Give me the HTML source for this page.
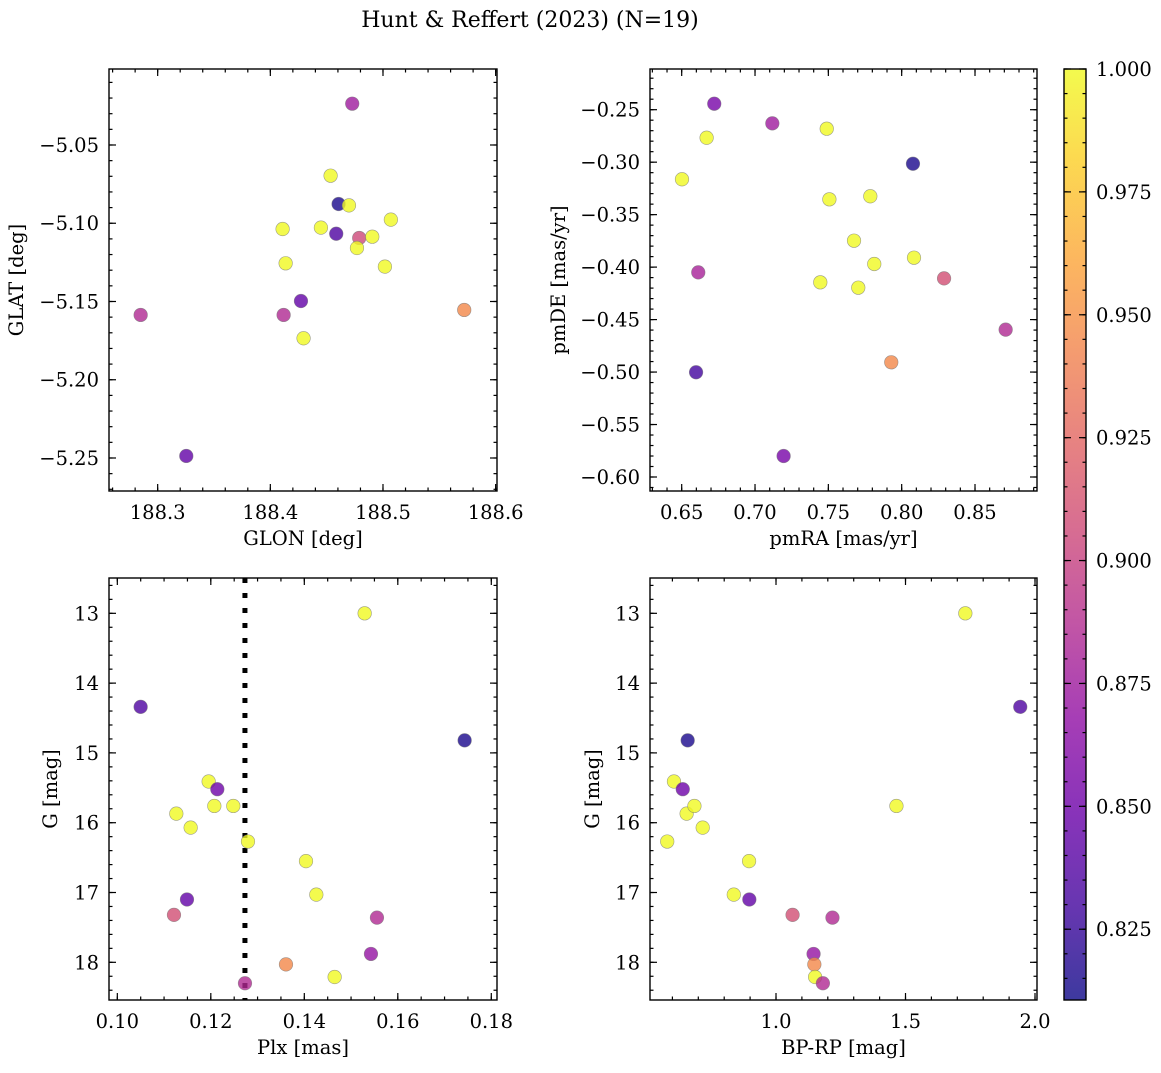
<!DOCTYPE html>
<html><head><meta charset="utf-8">
<style>
html,body{margin:0;padding:0;background:#fff;}
svg text{font-family:"DejaVu Serif","Liberation Serif",serif;fill:#000;}
</style></head>
<body>
<svg id="fig" width="1161" height="1068" viewBox="0 0 1161 1068" xmlns="http://www.w3.org/2000/svg">
<text x="530" y="27" font-size="22" text-anchor="middle">Hunt &amp; Reffert (2023) (N=19)</text>
</svg>
<script>
// Panel 1: GLON vs GLAT
const glon1 = [188.4727,188.4535,188.4606,188.4698,188.5070,188.4109,188.4449,188.4585,188.4789,188.4905,188.4769,188.4136,188.5017,188.4272,188.2849,188.4118,188.5721,188.4295,188.3254];
const glat1 = [-5.0236,-5.0696,-5.0877,-5.0886,-5.0977,-5.1037,-5.1028,-5.1067,-5.1094,-5.1086,-5.1158,-5.1256,-5.1277,-5.1497,-5.1586,-5.1586,-5.1554,-5.1735,-5.2487];
const prob1 = [0.875,1.0,0.815,1.0,1.0,1.0,1.0,0.835,0.905,1.0,1.0,1.0,1.0,0.845,0.885,0.885,0.945,1.0,0.845];
// Panel 2: pmRA vs pmDE
const pmra2 = [0.6722,0.7118,0.7489,0.6670,0.6502,0.8077,0.7507,0.7786,0.7675,0.7813,0.8084,0.6613,0.7445,0.7704,0.8289,0.8709,0.7929,0.6598,0.7195];
const pmde2 = [-0.2443,-0.2630,-0.2681,-0.2767,-0.3163,-0.3015,-0.3354,-0.3325,-0.3748,-0.3970,-0.3910,-0.4050,-0.4145,-0.4196,-0.4107,-0.4596,-0.4907,-0.5002,-0.5800];
const prob2 = [0.855,0.875,1.0,1.0,1.0,0.815,1.0,1.0,1.0,1.0,1.0,0.88,1.0,1.0,0.91,0.885,0.945,0.83,0.855];
// Panels 3/4: Plx, BP-RP, G
const plx3 = [0.15291,0.10499,0.17430,0.11954,0.12139,0.11262,0.12075,0.12481,0.11569,0.12795,0.14036,0.14257,0.11490,0.11212,0.15554,0.15426,0.13608,0.14649,0.12731];
const bprp4 = [1.731,1.943,0.659,0.606,0.640,0.655,0.685,1.465,0.717,0.580,0.896,0.837,0.897,1.064,1.218,1.145,1.148,1.151,1.181];
const gmag = [13.00,14.34,14.82,15.41,15.52,15.87,15.76,15.76,16.07,16.27,16.55,17.03,17.10,17.32,17.36,17.88,18.03,18.21,18.30];
const prob34 = [1.0,0.835,0.815,1.0,0.85,1.0,1.0,1.0,1.0,1.0,1.0,1.0,0.845,0.91,0.885,0.87,0.945,1.0,0.885];
const plxRef = 0.1273;
// Colorbar
const cbMin = 0.8106, cbMax = 1.0;
const cbTicks = [0.825,0.850,0.875,0.900,0.925,0.950,0.975,1.000];

const NS = "http://www.w3.org/2000/svg";
const fig = document.getElementById('fig');
const FS = 19.5, LFS = 19.5;
function mk(tag, attrs, parent){ const e=document.createElementNS(NS,tag); for(const k in attrs) e.setAttribute(k,attrs[k]); (parent||fig).appendChild(e); return e; }

const plasma=[[13,8,135],[65,4,157],[106,0,168],[143,13,164],[177,42,144],[204,71,120],[225,100,98],[242,132,75],[252,166,54],[252,206,37],[240,249,33]];
function cmap(v){ let t=(v-cbMin)/(cbMax-cbMin); t=Math.max(0,Math.min(1,t)); const f=t*10; const i=Math.min(9,Math.floor(f)); const r=f-i; const a=plasma[i],b=plasma[i+1]; return 'rgb('+a.map((c,k)=>Math.round(c+(b[k]-c)*r)).join(',')+')'; }

function panel(opt){
  const {x0,y0,w,h,xmin,xmax,ymin,ymax,invY,xMaj,xMin,yMaj,yMin,xfmt,yfmt,xlabel,ylabel,ylabelX,name}=opt;
  const g=mk('g',{});
  
  
  const sx=v=>x0+(v-xmin)/(xmax-xmin)*w;
  const sy=v=>invY? y0+(v-ymin)/(ymax-ymin)*h : y0+h-(v-ymin)/(ymax-ymin)*h;
  const tk=mk('g',{stroke:'#000','stroke-width':1.2},g);
  for(let v=Math.ceil(xmin/xMin-1e-6)*xMin; v<=xmax+1e-9; v+=xMin){ const X=sx(v); if(X<x0||X>x0+w)continue; mk('line',{x1:X,x2:X,y1:y0+h,y2:y0+h-3.5},tk); mk('line',{x1:X,x2:X,y1:y0,y2:y0+3.5},tk); }
  for(let v=Math.ceil(ymin/yMin-1e-6)*yMin; v<=ymax+1e-9; v+=yMin){ const Y=sy(v); if(Y<y0||Y>y0+h)continue; mk('line',{x1:x0,x2:x0+3.5,y1:Y,y2:Y},tk); mk('line',{x1:x0+w,x2:x0+w-3.5,y1:Y,y2:Y},tk); }
  xMaj.forEach(v=>{ const X=sx(v); mk('line',{x1:X,x2:X,y1:y0+h,y2:y0+h-7},tk); mk('line',{x1:X,x2:X,y1:y0,y2:y0+7},tk);
    const t=mk('text',{x:X,y:y0+h+28,'font-size':FS,'text-anchor':'middle'},g); t.textContent=xfmt(v);
    
     });
  yMaj.forEach(v=>{ const Y=sy(v); mk('line',{x1:x0,x2:x0+7,y1:Y,y2:Y},tk); mk('line',{x1:x0+w,x2:x0+w-7,y1:Y,y2:Y},tk);
    const t=mk('text',{x:x0-10,y:Y+7,'font-size':FS,'text-anchor':'end'},g); t.textContent=yfmt(v);
    
     });
  const xl=mk('text',{x:x0+w/2,y:y0+h+54,'font-size':LFS,'text-anchor':'middle'},g); xl.textContent=xlabel;
  
  
  const yl=mk('text',{x:ylabelX,y:y0+h/2,'font-size':LFS,'text-anchor':'middle',transform:'rotate(-90 '+ylabelX+' '+(y0+h/2)+')'},g); yl.textContent=ylabel;
  
  
  return {g,sx,sy,frame:()=>mk('rect',{x:x0,y:y0,width:w,height:h,fill:'none',stroke:'#000','stroke-width':1.4},g)};
}
function scatter(p,xs,ys,cs){
  xs.forEach((xv,i)=>{ const c=mk('circle',{cx:p.sx(xv),cy:p.sy(ys[i]),r:6.8,fill:cmap(cs[i]),'fill-opacity':0.8,stroke:'#777','stroke-opacity':0.7,'stroke-width':0.6},p.g);
    
     });
}
const f2=v=>v.toFixed(2), f1=v=>v.toFixed(1), f0=v=>v.toFixed(0);

const p1=panel({name:'glon-glat-panel',x0:109,y0:69,w:388,h:422,xmin:188.2568,xmax:188.6012,ymin:-5.27109,ymax:-5.00144,xMaj:[188.3,188.4,188.5,188.6],xMin:0.02,yMaj:[-5.25,-5.20,-5.15,-5.10,-5.05],yMin:0.01,xfmt:f1,yfmt:v=>'\u2212'+Math.abs(v).toFixed(2),xlabel:'GLON [deg]',ylabel:'GLAT [deg]',ylabelX:23});
scatter(p1,glon1,glat1,prob1); p1.frame();

const p2=panel({name:'pm-panel',x0:650,y0:69,w:387,h:422,xmin:0.62839,xmax:0.89227,ymin:-0.61334,ymax:-0.21122,xMaj:[0.65,0.70,0.75,0.80,0.85],xMin:0.01,yMaj:[-0.60,-0.55,-0.50,-0.45,-0.40,-0.35,-0.30,-0.25],yMin:0.01,xfmt:f2,yfmt:v=>'\u2212'+Math.abs(v).toFixed(2),xlabel:'pmRA [mas/yr]',ylabel:'pmDE [mas/yr]',ylabelX:565});
scatter(p2,pmra2,pmde2,prob2); p2.frame();

const p3=panel({name:'plx-g-panel',x0:109,y0:578,w:388,h:422,xmin:0.09822,xmax:0.18122,ymin:12.494,ymax:18.54,invY:true,xMaj:[0.10,0.12,0.14,0.16,0.18],xMin:0.005,yMaj:[13,14,15,16,17,18],yMin:0.2,xfmt:f2,yfmt:f0,xlabel:'Plx [mas]',ylabel:'G [mag]',ylabelX:57});
const rl=mk('line',{x1:p3.sx(plxRef),x2:p3.sx(plxRef),y1:578,y2:1000,stroke:'#000','stroke-width':5,'stroke-dasharray':'5 10'},p3.g);


scatter(p3,plx3,gmag,prob34); p3.frame();

const p4=panel({name:'cmd-panel',x0:650,y0:578,w:387,h:422,xmin:0.5135,xmax:2.0077,ymin:12.494,ymax:18.54,invY:true,xMaj:[1.0,1.5,2.0],xMin:0.1,yMaj:[13,14,15,16,17,18],yMin:0.2,xfmt:f1,yfmt:f0,xlabel:'BP-RP [mag]',ylabel:'G [mag]',ylabelX:599});
scatter(p4,bprp4,gmag,prob34); p4.frame();

// colorbar
const cb=mk('g',{});


const defs=mk('defs',{},cb);
const lg=mk('linearGradient',{id:'pl',x1:0,y1:1,x2:0,y2:0},defs);
plasma.forEach((c,i)=>mk('stop',{offset:(i/10),'stop-color':'rgb('+c.join(',')+')','stop-opacity':0.8},lg));
const cbx=1064,cby=69,cbw=22,cbh=931;
mk('rect',{x:cbx,y:cby,width:cbw,height:cbh,fill:'url(#pl)'},cb);
const cy=v=>cby+cbh-(v-cbMin)/(cbMax-cbMin)*cbh;
for(let v=0.815;v<=1.0001;v+=0.005){ const Y=cy(v); mk('line',{x1:cbx+cbw,x2:cbx+cbw-3.5,y1:Y,y2:Y,stroke:'#000','stroke-width':1.2},cb); mk('line',{x1:cbx,x2:cbx+3.5,y1:Y,y2:Y,stroke:'#000','stroke-width':1.2},cb); }
cbTicks.forEach(v=>{ const Y=cy(v); mk('line',{x1:cbx+cbw,x2:cbx+cbw-7,y1:Y,y2:Y,stroke:'#000','stroke-width':1.2},cb); mk('line',{x1:cbx,x2:cbx+7,y1:Y,y2:Y,stroke:'#000','stroke-width':1.2},cb);
  const t=mk('text',{x:cbx+cbw+10,y:Y+7,'font-size':FS},cb); t.textContent=v.toFixed(3);
  
   });
mk('rect',{x:cbx,y:cby,width:cbw,height:cbh,fill:'none',stroke:'#000','stroke-width':1.4},cb);
</script>
</body></html>
